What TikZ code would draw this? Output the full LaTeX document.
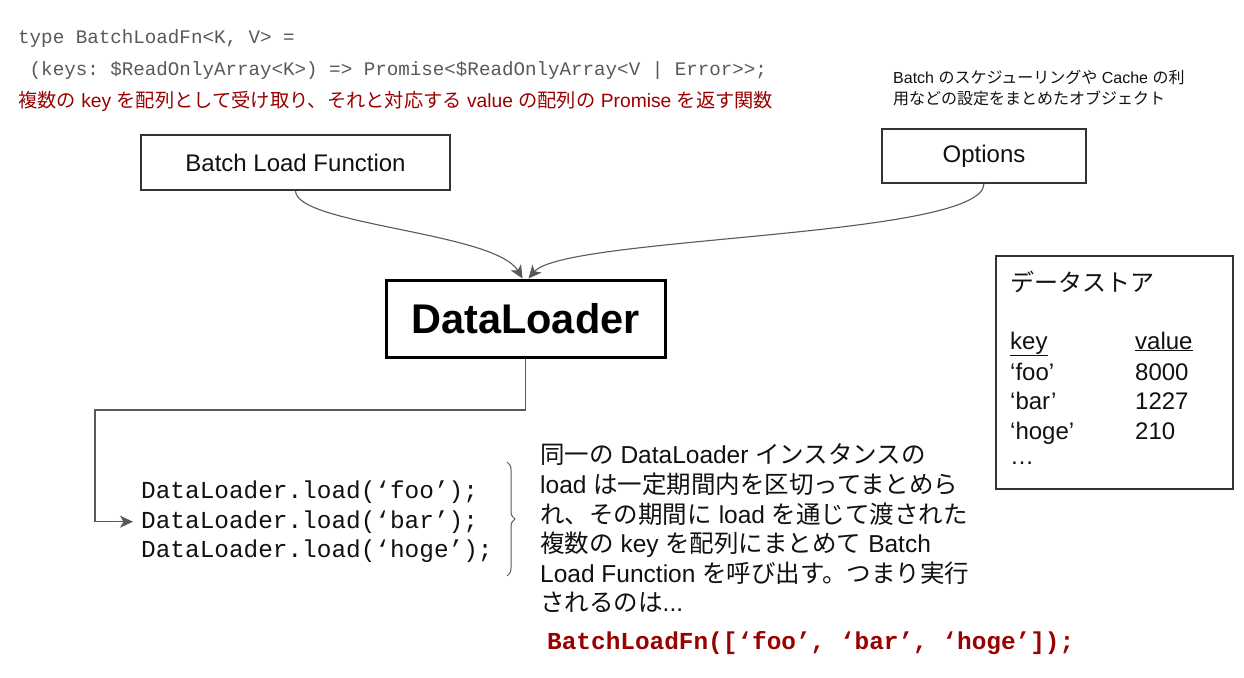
\documentclass[tikz,border=0pt]{standalone}
\usepackage{fontspec}
\setmainfont{Liberation Sans}
\setmonofont{Liberation Mono}
\newfontfamily\cjk{Noto Sans CJK JP}
\newcommand\J[1]{{\cjk #1}}
\usetikzlibrary{arrows.meta,decorations.pathreplacing}
\definecolor{codegray}{HTML}{595959}
\definecolor{dred}{HTML}{990000}
\definecolor{linec}{HTML}{595959}
\definecolor{boxc}{HTML}{333333}
\definecolor{txt}{HTML}{111111}
\tikzset{
  box/.style={draw=boxc, line width=1.3pt, inner sep=0pt, font=\fontsize{24}{28}\selectfont, text=txt},
  conn/.style={draw=linec, line width=1.1pt, -{Stealth[length=13pt,width=12pt,inset=3.5pt]}},
  plain/.style={inner sep=0pt, anchor=base west, text=txt},
  topcode/.style={plain, text=codegray, font=\ttfamily\fontsize{19.2}{22}\selectfont},
  redline/.style={plain, text=dred, font=\fontsize{19.25}{24}\selectfont},
  note/.style={plain, font=\fontsize{16}{20}\selectfont},
  para/.style={plain, font=\fontsize{24.5}{29}\selectfont},
  code/.style={plain, text=txt, font=\ttfamily\fontsize{24.4}{29}\selectfont},
  redcode/.style={plain, text=dred, font=\ttfamily\bfseries\fontsize{24.4}{29}\selectfont},
  store/.style={plain, font=\fontsize{24}{29}\selectfont},
}
\begin{document}
\begin{tikzpicture}[x=1pt,y=-1pt]
\useasboundingbox[fill=white] (0,0) rectangle (1244,677);

% top code and description
\node[topcode] (t1) at (18,44) {type BatchLoadFn<K, V> =};
\node[topcode] (t2) at (18,75) {\ (keys: \$ReadOnlyArray<K>) => Promise<\$ReadOnlyArray<V | Error>>;};
\node[redline] (t3) at (18,107) {\J{複数の} key \J{を配列として受け取り、それと対応する} value \J{の配列の} Promise \J{を返す関数}};

% options note
\node[note] (n1) at (893,84) {Batch \J{のスケジューリングや} Cache \J{の利}};
\node[note] (n2) at (893,104) {\J{用などの設定をまとめたオブジェクト}};

% boxes
\node[box, minimum width=309pt, minimum height=55pt] (blf) at (295.5,162.5) {Batch Load Function};
\node[box, minimum width=204pt, minimum height=54pt] (opt) at (984,156) {Options};
\node[box, draw=black, line width=3pt, minimum width=279pt, minimum height=77pt,
      font=\bfseries\fontsize{41.5}{48}\selectfont, text=black] (dl) at (525.5,318.5) {DataLoader};
\node[box, line width=1.5pt, minimum width=237pt, minimum height=233pt] (ds) at (1114.5,372.5) {};

% datastore content
\node[store] (dst) at (1010,291) {\J{データストア}};
\node[store] (k0) at (1010,349) {\underline{key}};
\node[store] (v0) at (1135,349) {\underline{value}};
\node[store] (k1) at (1010,380) {‘foo’};
\node[store] (v1) at (1135,380) {8000};
\node[store] (k2) at (1010,409) {‘bar’};
\node[store] (v2) at (1135,409) {1227};
\node[store] (k3) at (1010,439) {‘hoge’};
\node[store] (v3) at (1135,439) {210};
\node[store] (k4) at (1010,464) {…};

% load calls
\node[code] (c1) at (141,498) {DataLoader.load(‘foo’);};
\node[code] (c2) at (141,528) {DataLoader.load(‘bar’);};
\node[code] (c3) at (141,557) {DataLoader.load(‘hoge’);};

% brace
\coordinate (bt) at (507,462);
\coordinate (bb) at (507,576);
\draw[linec, line width=1pt, decorate, decoration={brace, amplitude=8pt}] (bt) -- (bb);

% paragraph
\node[para] (p1) at (540,463) {\J{同一の} DataLoader \J{インスタンスの}};
\node[para] (p2) at (540,493) {load \J{は一定期間内を区切ってまとめら}};
\node[para] (p3) at (540,523) {\J{れ、その期間に} load \J{を通じて渡された}};
\node[para] (p4) at (540,552) {\J{複数の} key \J{を配列にまとめて} Batch};
\node[para] (p5) at (540,582) {Load Function \J{を呼び出す。つまり実行}};
\node[para] (p6) at (540,611) {\J{されるのは}...};

\node[redcode] (rc) at (547,649) {BatchLoadFn([‘foo’, ‘bar’, ‘hoge’]);};

% connectors
\draw[conn] (blf.south) .. controls (295.5,225) and (495,232) .. ([xshift=-3pt]dl.north);
\draw[conn] (opt.south) .. controls (984,238) and (565,236) .. ([xshift=3pt]dl.north);
\coordinate (e1) at (95,410);
\draw[conn] (dl.south) |- (e1) |- ([xshift=-8pt]c2.west);
\end{tikzpicture}
\end{document}
